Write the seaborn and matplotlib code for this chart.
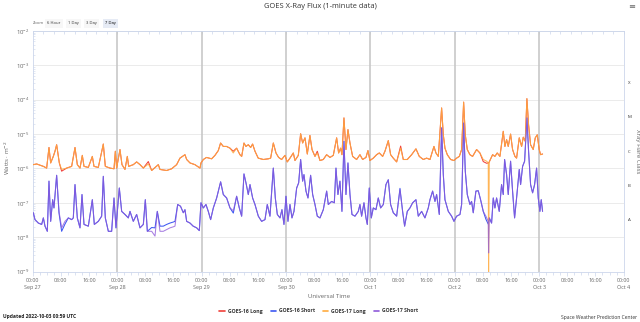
import matplotlib
matplotlib.use("Agg")
import matplotlib.pyplot as plt
import matplotlib.dates as mdates
import matplotlib.ticker as mticker
from matplotlib.lines import Line2D
import numpy as np
import pandas as pd
import seaborn as sns

START = pd.Timestamp("2022-09-27 00:00")
END = pd.Timestamp("2022-10-04 00:00")

# GOES-17 long channel (0.1-0.8 nm): hours after start, log10(W m^-2)
g17_long_hr = [
    0.15, 1.10, 3.0, 3.94, 4.60, 5.08, 5.83, 6.31, 6.78, 7.54, 8.20, 9.63, 11.05, 12.0,
    12.66, 13.42, 14.08, 14.56, 15.79, 16.93, 17.4, 18.63, 20.05, 20.62, 21.95, 23.09,
    23.47, 23.84, 24.79, 25.36, 26.21, 26.88, 27.26, 28.58, 29.53, 30.48, 31.43, 32.85,
    33.8, 35.69, 36.17, 38.06, 39.48, 40.9, 41.85, 43.27, 43.75, 44.7, 46.1, 47.54,
    47.82, 48.5, 49.4, 50.85, 51.8, 52.75, 53.4, 54.17, 55.1, 56.07, 57.0, 57.96, 58.9,
    59.4, 60.05, 60.6, 61.28, 61.95, 62.5, 63.18, 64.1, 65.55, 66.97, 67.63, 68.4,
    69.15, 69.9, 70.76, 71.7, 72.37, 73.13, 74.08, 74.55, 75.5, 76.16, 76.73, 77.4,
    78.06, 78.8, 79.4, 80.24, 80.9, 81.66, 82.6, 83.55, 84.5, 85.45, 86.4, 86.96,
    87.53, 87.91, 88.48, 89.05, 89.62, 90.19, 90.95, 92.08, 93.03, 93.79, 94.74, 95.3,
    95.87, 96.82, 97.77, 98.53, 99.48, 100.14, 101.09, 101.75, 102.5, 103.46, 104.6,
    105.35, 106.49, 107.72, 108.95, 109.9, 111.04, 111.99, 112.94, 114.07, 114.64,
    115.31, 116.25, 116.73, 117.2, 117.87, 118.81, 119.76, 120.52, 121.28, 121.94,
    122.51, 122.98, 123.55, 124.3, 125.06, 126.2, 127.14, 128.09, 129.04, 129.51,
    129.61, 129.8, 130.75, 131.4, 132.07, 132.83, 133.78, 134.25, 134.73, 135.2,
    135.86, 136.43, 137.1, 137.57, 138.33, 139.0, 139.47, 140.03, 140.5, 140.98,
    141.55, 142.3, 142.88, 143.45, 144.0, 144.4, 144.96,
]
g17_long_log = [
    -5.89, -5.87, -5.94, -5.99, -5.39, -5.84, -5.65, -5.50, -5.31, -5.84, -6.03, -5.99, -5.94, -5.39,
    -5.89, -5.99, -5.62, -5.94, -5.97, -5.65, -5.94, -5.97, -5.29, -5.94, -5.99, -6.01,
    -5.50, -5.99, -5.45, -5.89, -6.03, -5.65, -5.94, -5.89, -5.81, -5.89, -5.99, -5.87,
    -6.06, -5.89, -6.03, -6.06, -6.01, -5.89, -5.70, -5.60, -5.74, -5.84, -5.89, -5.99,
    -5.84, -5.74, -5.68, -5.72, -5.62, -5.48, -5.26, -5.36, -5.36, -5.41, -5.55, -5.41, -5.60,
    -5.65, -5.26, -5.36, -5.31, -5.39, -5.29, -5.50, -5.70, -5.74, -5.72, -5.70, -5.26,
    -5.55, -5.68, -5.74, -5.62, -5.81, -5.70, -5.55, -5.77, -5.62, -4.99, -5.26, -5.11,
    -5.58, -5.04, -5.45, -5.65, -5.55, -5.77, -5.74, -5.60, -5.68, -5.62, -5.11, -5.55,
    -5.41, -5.60, -4.53, -5.45, -4.87, -5.26, -5.65, -5.74, -5.60, -5.74, -5.68, -5.48,
    -5.77, -5.70, -5.60, -5.55, -5.65, -5.50, -5.19, -5.60, -5.70, -5.81, -5.41,
    -5.74, -5.74, -5.60, -5.43, -5.65, -5.74, -5.70, -5.74, -5.36, -5.55,
    -5.65, -4.24, -5.02, -5.41, -5.60, -5.74, -5.77, -5.70, -5.65, -5.45,
    -4.07, -5.02, -5.45, -5.60, -5.65, -5.45, -5.55, -5.74, -5.79, -5.84,
    -9.30, -5.81, -5.60, -5.65, -5.55, -5.65, -4.92, -5.36, -5.16, -5.36,
    -5.00, -5.45, -5.65, -5.70, -5.11, -5.36, -5.09, -5.21, -3.97, -4.73,
    -5.31, -5.45, -5.11, -5.02, -5.45, -5.60, -5.58,
]

# GOES-17 short channel (0.05-0.4 nm)
g17_short_hr = [
    0.15, 0.62, 1.57, 2.52, 3.0, 3.47, 4.13, 4.6, 5.08, 5.65, 6.02, 6.78, 7.45, 8.2, 9.15,
    10.1, 11.05, 11.52, 12.0, 12.66, 13.42, 13.99, 14.56, 15.79, 16.93, 17.49, 18.63,
    19.58, 20.05, 20.62, 21.48, 22.42, 23.09, 23.65, 24.6, 25.27, 26.21, 27.16, 27.64,
    28.58, 29.53, 30.48, 31.43, 32.0, 32.57, 33.8, 34.75, 35.41, 36.17, 37.11, 38.06,
    39.0, 39.95, 40.43, 41.2, 42.0, 42.8, 43.27, 43.75, 44.7, 45.6, 46.6, 47.35, 47.82,
    48.5, 49.24, 49.9, 50.57, 51.33, 52.28, 53.41, 54.17, 55.12, 56.07, 57.02, 57.96,
    58.72, 59.39, 60.05, 60.62, 61.28, 61.76, 62.51, 63.18, 64.13, 65.07, 66.02, 66.68,
    67.44, 68.39, 68.96, 69.53, 70.29, 70.85, 71.42, 71.99, 72.56, 73.13, 73.7, 74.27,
    75.03, 75.6, 76.16, 76.73, 77.11, 77.68, 78.25, 79.0, 79.58, 80.24, 80.9, 81.66,
    82.61, 83.56, 84.03, 84.98, 85.74, 86.21, 86.77, 87.34, 87.91, 88.48, 89.05, 89.62,
    90.19, 90.76, 91.61, 92.56, 93.03, 93.5, 94.17, 94.74, 95.12, 95.68, 96.25, 96.82,
    97.58, 98.24, 98.91, 99.67, 100.42, 101.09, 101.75, 102.51, 103.46, 104.41, 105.16,
    105.73, 106.49, 107.25, 108.01, 108.95, 109.62, 110.57, 111.51, 112.46, 112.94,
    113.69, 114.36, 114.83, 115.59, 116.25, 116.73, 117.2, 118.15, 119.1, 119.76,
    120.52, 121.47, 121.94, 122.51, 122.98, 123.55, 124.31, 124.77, 125.25, 126.0,
    126.67, 127.33, 128.09, 128.85, 129.51, 129.61, 129.8, 130.46, 130.94, 131.41,
    131.88, 132.64, 133.3, 133.78, 134.16, 134.73, 135.2, 135.86, 136.43, 137.0,
    137.57, 138.33, 138.71, 139.28, 139.85, 140.51, 140.98, 141.55, 142.12, 142.69,
    143.26, 143.73, 144.2, 144.58, 144.96,
]
g17_short_log = [
    -7.29, -7.49, -7.59, -7.63, -7.44, -7.68, -7.83, -6.37, -7.54, -6.91, -7.15, -6.20, -7.25, -7.73, -7.54,
    -7.44, -7.49, -7.44, -6.47, -7.44, -7.73, -6.76, -7.63, -7.68, -6.91, -7.63, -7.54,
    -7.39, -6.23, -7.44, -7.83, -7.83, -6.86, -7.73, -6.57, -7.25, -7.34, -7.44, -7.25,
    -7.54, -7.34, -7.73, -7.63, -6.91, -7.83, -7.83, -7.97, -7.25, -7.83, -7.83, -7.78,
    -7.73, -7.70, -7.68, -7.05, -7.10, -7.29, -7.20, -7.54, -7.59, -7.68, -7.73, -7.81, -7.00,
    -7.15, -7.05, -7.25, -7.49, -7.15, -6.86, -6.39, -6.76, -6.86, -7.15, -7.23, -6.81,
    -7.15, -7.39, -6.16, -6.42, -6.76, -6.47, -6.86, -7.05, -7.39, -7.54, -7.49, -7.05,
    -7.39, -5.99, -6.86, -7.34, -7.44, -7.20, -7.63, -6.81, -7.54, -7.05, -7.44, -7.25,
    -6.57, -6.42, -5.74, -6.37, -6.18, -6.66, -6.86, -6.20, -6.76, -7.05, -7.39, -7.44,
    -7.20, -6.66, -7.05, -6.96, -7.00, -5.99, -6.76, -6.37, -7.25, -5.21, -6.76, -5.84,
    -6.76, -7.34, -7.39, -7.25, -7.05, -7.39, -7.00, -7.44, -7.63, -6.57, -7.44, -7.15,
    -7.20, -6.86, -7.15, -7.05, -6.47, -6.33, -7.05, -7.29, -7.39, -6.62, -7.25,
    -7.68, -7.25, -7.15, -7.00, -6.91, -7.39, -7.25, -7.44, -7.15, -6.91,
    -6.66, -6.96, -6.76, -7.34, -4.82, -6.18, -6.91, -7.25, -7.39, -7.54,
    -7.39, -7.34, -7.05, -4.68, -6.08, -6.76, -7.05, -6.96, -7.29, -6.66,
    -6.65, -6.91, -7.25, -7.39, -7.54, -8.46, -7.44, -7.59, -6.86, -7.15,
    -6.86, -7.25, -6.47, -6.76, -5.74, -6.18, -6.76, -5.79, -6.66, -7.44,
    -6.86, -6.03, -6.47, -5.94, -5.79, -4.53, -5.50, -6.47, -6.71, -6.47,
    -5.99, -6.86, -7.25, -6.91, -7.25,
]

# GOES-16 readings where they depart from the GOES-17 trace
g16_long_hr = [8.2, 32.85, 57.0, 80.9, 104.6, 128.09, 129.04, 129.61]
g16_long_log = [-6.08, -5.80, -5.50, -5.50, -5.35, -5.80, -5.85, -5.84]
g16_short_hr = [7.45, 8.2, 9.15, 33.8, 34.75, 36.17, 37.11, 38.06, 39.0, 39.95, 40.43,
                57.02, 104.41, 128.85, 129.51, 129.61]
g16_short_log = [-7.30, -7.83, -7.62, -7.72, -7.73, -7.68, -7.68, -7.63, -7.59, -7.56, -7.54,
                 -7.30, -6.58, -7.48, -7.62, -7.56]

SERIES = ["GOES-16 Long", "GOES-16 Short", "GOES-17 Long", "GOES-17 Short"]
COLORS = {"GOES-16 Long": "#f0403a", "GOES-16 Short": "#3d57f2",
          "GOES-17 Long": "#ffab40", "GOES-17 Short": "#8f5ad9"}
ALPHAS = {"GOES-16 Long": 1.0, "GOES-16 Short": 1.0,
          "GOES-17 Long": 0.88, "GOES-17 Short": 0.78}

flare_classes = ["A", "B", "C", "M", "X"]


def with_overrides(base_hr, base_log, hr, lg):
    s = pd.Series(base_log, index=base_hr, dtype=float)
    for h, v in zip(hr, lg):
        s.loc[h] = v
    return s.sort_index()


def frame(name, s):
    return pd.DataFrame({
        "time": START + pd.to_timedelta(np.asarray(s.index, dtype=float), unit="h"),
        "flux": 10.0 ** s.values,
        "series": name,
    })


s17l = pd.Series(g17_long_log, index=g17_long_hr)
s17s = pd.Series(g17_short_log, index=g17_short_hr)
s16l = with_overrides(g17_long_hr, g17_long_log, g16_long_hr, g16_long_log)
s16s = with_overrides(g17_short_hr, g17_short_log, g16_short_hr, g16_short_log)
df = pd.concat([frame("GOES-16 Long", s16l), frame("GOES-16 Short", s16s),
                frame("GOES-17 Long", s17l), frame("GOES-17 Short", s17s)],
               ignore_index=True)

sns.set_theme(style="white")
plt.rcParams["font.family"] = ["Open Sans", "DejaVu Sans"]
plt.rcParams["mathtext.fontset"] = "dejavusans"

TXT = "#666666"
AXC = "#ccd6eb"

fig = plt.figure(figsize=(6.4, 3.22), dpi=100)
fig.patch.set_facecolor("white")
L, R, T, Bt = 32.8 / 640, 623.6 / 640, 1 - 31.0 / 322, 1 - 271.5 / 322
ax = fig.add_axes([L, Bt, R - L, T - Bt])

for name in SERIES:
    sns.lineplot(data=df[df["series"] == name], x="time", y="flux", color=COLORS[name],
                 alpha=ALPHAS[name], linewidth=0.75, estimator=None, sort=True,
                 legend=False, ax=ax, zorder=3)

ax.set_yscale("log")
ax.set_ylim(1e-9, 1e-2)
ax.set_xlim(START, END)
ax.set_xlabel("")
ax.set_ylabel("")

# day separators and decade grid
for d in pd.date_range("2022-09-28", "2022-10-03", freq="D"):
    ax.axvline(d, color="#c4c4c4", lw=1.1, zorder=1)
ax.yaxis.grid(True, which="major", color="#e8e8e8", lw=0.6, zorder=0)
ax.xaxis.grid(False)

for sp in ax.spines.values():
    sp.set_color(AXC)
    sp.set_linewidth(0.6)

ax.xaxis.set_major_locator(mdates.HourLocator(byhour=[0, 8, 16]))
ax.xaxis.set_minor_locator(mdates.HourLocator(byhour=list(range(0, 24, 2))))


def xfmt(x, pos=None):
    dt = mdates.num2date(x)
    s = dt.strftime("%H:%M")
    if dt.hour == 0:
        s += "\n" + dt.strftime("%b ") + str(dt.day)
    return s


ax.xaxis.set_major_formatter(mticker.FuncFormatter(xfmt))
ax.tick_params(axis="x", which="major", length=3, width=0.5, color=AXC, labelsize=3.9,
               labelcolor=TXT, pad=1.5, bottom=True)
ax.tick_params(axis="x", which="minor", length=2, width=0.5, color=AXC, bottom=True)
for lab in ax.get_xticklabels():
    lab.set_linespacing(1.5)

ax.yaxis.set_major_locator(mticker.LogLocator(base=10, numticks=10))
ax.yaxis.set_major_formatter(mticker.LogFormatterMathtext())
ax.yaxis.set_minor_locator(mticker.LogLocator(base=10, subs=np.arange(2, 10), numticks=20))
ax.yaxis.set_minor_formatter(mticker.NullFormatter())
ax.tick_params(axis="y", which="major", length=0, labelsize=4.3, labelcolor=TXT, pad=2.5, left=True)
ax.tick_params(axis="y", which="minor", length=1.5, width=0.4, color=AXC, direction="in", left=True)

# top axis ticks every 3 hours
top = ax.secondary_xaxis("top")
top.xaxis.set_major_locator(mdates.HourLocator(byhour=list(range(0, 24, 3))))
top.xaxis.set_major_formatter(mticker.NullFormatter())
top.tick_params(axis="x", length=1.8, width=0.5, color=AXC, direction="in")
top.spines["top"].set_color(AXC)
top.spines["top"].set_linewidth(0.6)

# flare class axis
ax2 = ax.twinx()
ax2.set_yscale("log")
ax2.set_ylim(1e-9, 1e-2)
ax2.yaxis.set_major_locator(mticker.FixedLocator([10 ** (-7.5 + i) for i in range(5)]))
ax2.yaxis.set_major_formatter(mticker.FixedFormatter(flare_classes))
ax2.yaxis.set_minor_locator(mticker.NullLocator())
ax2.tick_params(axis="y", length=0, labelsize=3.2, labelcolor="#333333", pad=3)
ax2.set_ylabel("Xray Flare Class", rotation=270, fontsize=4.4, color=TXT, labelpad=6)
for sp in ax2.spines.values():
    sp.set_visible(False)
ax2.grid(False)

fig.text(7 / 640, 1 - 158 / 322, "Watts \u00b7 m$^{-2}$", rotation=90, fontsize=4.4,
         color=TXT, ha="center", va="center")
fig.text(320 / 640, 1 - 7 / 322, "GOES X-Ray Flux (1-minute data)", fontsize=5.4,
         color="#333333", ha="center", va="center")
fig.text(632 / 640, 1 - 8 / 322, "\u2261", fontsize=6, color=TXT, ha="center", va="center")
fig.text(329 / 640, 1 - 296 / 322, "Universal Time", fontsize=4.4, color=TXT,
         ha="center", va="center")

# range selector row
fig.text(33 / 640, 1 - 23 / 322, "Zoom", fontsize=3.0, color=TXT, ha="left", va="center")
for label, cx, active in [("6 Hour", 54, False), ("1 Day", 73.5, False),
                          ("3 Day", 91.5, False), ("7 Day", 110.5, True)]:
    fig.text(cx / 640, 1 - 23 / 322, label, fontsize=3.0, ha="center", va="center",
             color="#000000" if active else "#333333",
             bbox=dict(boxstyle="square,pad=0.6", fc="#e6ebf5" if active else "#f7f7f7",
                       ec="none"))

fig.text(3 / 640, 1 - 316.5 / 322, "Updated 2022-10-03 00:59 UTC", fontsize=3.6,
         color="#222222", fontweight="bold", ha="left", va="center")
fig.text(637 / 640, 1 - 317.5 / 322, "Space Weather Prediction Center", fontsize=3.6,
         color="#333333", ha="right", va="center")

handles = [Line2D([0], [0], color=COLORS[n], lw=1.2) for n in SERIES]
fig.legend(handles, SERIES, loc="center", bbox_to_anchor=(319 / 640, 1 - 311 / 322),
           ncol=4, frameon=False, fontsize=3.7, handlelength=1.0, handletextpad=0.6,
           columnspacing=1.6, prop={"weight": "bold", "size": 3.7})
for t in fig.legends[0].get_texts():
    t.set_color("#333333")

fig.savefig("out.png", dpi=100, facecolor="white")
